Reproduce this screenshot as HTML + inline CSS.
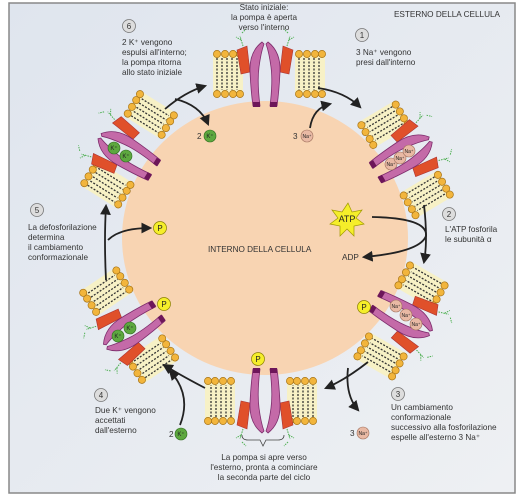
<!DOCTYPE html>
<html><head><meta charset="utf-8"><style>
body{margin:0;background:#fff;}
svg{display:block;font-family:"Liberation Sans",sans-serif;}
</style></head><body>
<svg width="518" height="497" viewBox="0 0 518 497">
<defs>
<linearGradient id="bg" x1="0" y1="0" x2="1" y2="1"><stop offset="0" stop-color="#dfe5ee"/><stop offset="1" stop-color="#eef0f3"/></linearGradient>
<g id="lip">
  <rect x="-26" y="-18" width="30" height="40" fill="#f7f1c6"/>
  <path d="M-22-14v32M-17-14v32M-12-14v32M-7-14v32M-2-14v32" stroke="#333" stroke-width="1.3" stroke-dasharray="2 1.5"/>
  <g fill="#f2b53c" stroke="#a87416" stroke-width="0.7">
  <circle cx="-22" cy="-18" r="3.6"/><circle cx="-14" cy="-18" r="3.6"/><circle cx="-6" cy="-18" r="3.6"/><circle cx="1" cy="-18" r="3.6"/>
  <circle cx="-22" cy="22" r="3.6"/><circle cx="-14" cy="22" r="3.6"/><circle cx="-6" cy="22" r="3.6"/><circle cx="1" cy="22" r="3.6"/></g>
</g>
<g id="pump">
  <use href="#lip" transform="translate(-26,0)"/>
  <use href="#lip" transform="translate(56,0)"/>
  <path d="M-28-22 L-18-26 L-15 0 L-24 2 Z" fill="#e0502a" stroke="#a33" stroke-width="0.6"/>
  <path d="M28-22 L18-26 L15 0 L24 2 Z" fill="#e0502a" stroke="#a33" stroke-width="0.6"/>
  <path d="M-3-30 Q-16-20 -15 0 Q-14 20 -12 34 L-5 34 Q-8 10 -6 -5 Q-4 -20 -1 -28Z" fill="#c46aa8" stroke="#7c2b6b" stroke-width="0.8"/>
  <path d="M3-30 Q16-20 15 0 Q14 20 12 34 L5 34 Q8 10 6 -5 Q4 -20 1 -28Z" fill="#c46aa8" stroke="#7c2b6b" stroke-width="0.8"/>
  <path d="M-12 30 h7 v5 h-7z M5 30 h7 v5 h-7z" fill="#6d1659"/>
  <path d="M-22-26 l-3-10 m1 4 l-5-3 m6-4 l4-4 M22-26 l3-10 m-1 4 l5-3 m-6-4 l-4-4" stroke="#4caf50" stroke-width="1" stroke-dasharray="1.5 1" fill="none"/>
</g>
<marker id="ah" viewBox="0 0 10 10" refX="8" refY="5" markerWidth="6" markerHeight="6" orient="auto"><path d="M0 0L10 5L0 10z" fill="#222"/></marker>
</defs>
<rect x="9" y="3" width="506" height="490" fill="url(#bg)" stroke="#888" stroke-width="1.5"/>
<ellipse cx="265" cy="238" rx="143" ry="137" fill="#f8d4b2"/>
<g><use href="#pump" transform="translate(265,72)"/></g>
<g><use href="#pump" transform="translate(405,155) rotate(59)"/></g>
<g><use href="#pump" transform="translate(405,318) rotate(120)"/></g>
<g><use href="#pump" transform="translate(265,403) rotate(180)"/></g>
<g><use href="#pump" transform="translate(130,330) rotate(-124)"/></g>
<g><use href="#pump" transform="translate(125,152) rotate(-58)"/></g>
<g font-size="5" text-anchor="middle">
  <g fill="#e9b9a4" stroke="#a0705c" stroke-width="0.6"><circle cx="391" cy="164" r="6"/><circle cx="400" cy="158" r="6"/><circle cx="409" cy="151" r="6"/><circle cx="307" cy="136" r="6"/>
  <circle cx="396" cy="306" r="6"/><circle cx="406" cy="315" r="6"/><circle cx="416" cy="324" r="6"/><circle cx="363" cy="433" r="6"/></g>
  <g fill="#5da83f" stroke="#2e6b1e" stroke-width="0.6"><circle cx="114" cy="148" r="6"/><circle cx="126" cy="156" r="6"/><circle cx="210" cy="136" r="6"/>
  <circle cx="118" cy="336" r="6"/><circle cx="130" cy="328" r="6"/><circle cx="181" cy="434" r="6"/></g>
  <g fill="#f5ee2a" stroke="#8a8000" stroke-width="0.7"><circle cx="160" cy="228" r="6.5"/><circle cx="164" cy="304" r="6.5"/><circle cx="364" cy="307" r="6.5"/><circle cx="258" cy="359" r="6.5"/></g>
  <g fill="#222"><text x="391" y="166">Na⁺</text><text x="400" y="160">Na⁺</text><text x="409" y="153">Na⁺</text><text x="307" y="138">Na⁺</text>
  <text x="396" y="308">Na⁺</text><text x="406" y="317">Na⁺</text><text x="416" y="326">Na⁺</text><text x="363" y="435">Na⁺</text>
  <text x="114" y="150" font-size="6">K⁺</text><text x="126" y="158" font-size="6">K⁺</text><text x="210" y="138" font-size="6">K⁺</text>
  <text x="118" y="338" font-size="6">K⁺</text><text x="130" y="330" font-size="6">K⁺</text><text x="181" y="436" font-size="6">K⁺</text>
  <text x="160" y="231" font-size="8">P</text><text x="164" y="307" font-size="8">P</text><text x="364" y="310" font-size="8">P</text><text x="258" y="362" font-size="8">P</text></g>
</g>
<polygon points="348,203 352,212 362,210 356,218 364,224 354,226 354,236 347,229 340,236 340,226 330,224 338,218 332,210 342,212" fill="#f5ee2a" stroke="#a09a00" stroke-width="0.7"/>
<text x="347" y="222" font-size="9" text-anchor="middle" fill="#222">ATP</text>
<g fill="none" stroke="#222" stroke-width="1.8" marker-end="url(#ah)">
  <path d="M165 109 Q185 92 205 86"/><path d="M175 99 Q200 105 208 124"/>
  <path d="M318 88 Q345 92 360 107"/><path d="M310 128 Q313 108 330 104"/>
  <path d="M424 205 Q428 240 424 262"/><path d="M372 217 Q428 218 426 236 Q420 252 364 257"/>
  <path d="M368 362 Q345 380 326 388"/><path d="M348 368 Q345 395 358 410"/>
  <path d="M205 388 Q180 375 164 365"/><path d="M180 425 Q192 395 170 371"/>
  <path d="M106 280 Q104 240 106 206"/><path d="M108 240 Q120 228 150 228"/>
</g>
<path d="M242 435 Q242 440 248 440 H260 L263 446 L266 440 H278 Q284 440 284 435" fill="none" stroke="#444" stroke-width="0.8"/>
<g font-size="8.2" fill="#333">
  <text x="500" y="17" text-anchor="end">ESTERNO DELLA CELLULA</text>
  <text x="264" y="10" text-anchor="middle">Stato iniziale:</text>
  <text x="264" y="20" text-anchor="middle">la pompa è aperta</text>
  <text x="264" y="30" text-anchor="middle">verso l'interno</text>
  <text x="122" y="45">2 K⁺ vengono</text><text x="122" y="55">espulsi all'interno;</text><text x="122" y="65">la pompa ritorna</text><text x="122" y="75">allo stato iniziale</text>
  <text x="356" y="55">3 Na⁺ vengono</text><text x="356" y="65">presi dall'interno</text>
  <text x="445" y="232">L'ATP fosforila</text><text x="445" y="242">le subunità α</text>
  <text x="28" y="230">La defosforilazione</text><text x="28" y="240">determina</text><text x="28" y="250">il cambiamento</text><text x="28" y="260">conformazionale</text>
  <text x="208" y="252">INTERNO DELLA CELLULA</text>
  <text x="342" y="260">ADP</text>
  <text x="391" y="410">Un cambiamento</text><text x="391" y="420">conformazionale</text><text x="391" y="430">successivo alla fosforilazione</text><text x="391" y="440">espelle all'esterno 3 Na⁺</text>
  <text x="95" y="413">Due K⁺ vengono</text><text x="95" y="423">accettati</text><text x="95" y="433">dall'esterno</text>
  <text x="264" y="460" text-anchor="middle">La pompa si apre verso</text><text x="264" y="470" text-anchor="middle">l'esterno, pronta a cominciare</text><text x="264" y="480" text-anchor="middle">la seconda parte del ciclo</text>
  <text x="197" y="139">2</text><text x="293" y="139">3</text><text x="350" y="436">3</text><text x="169" y="437">2</text>
</g>
<g font-size="8" text-anchor="middle">
  <g fill="#ddd" stroke="#777" stroke-width="0.8"><circle cx="129" cy="26" r="6.5"/><circle cx="362" cy="35" r="6.5"/><circle cx="449" cy="214" r="6.5"/><circle cx="37" cy="210" r="6.5"/><circle cx="398" cy="394" r="6.5"/><circle cx="101" cy="395" r="6.5"/></g>
  <g fill="#333"><text x="129" y="29">6</text><text x="362" y="38">1</text><text x="449" y="217">2</text><text x="37" y="213">5</text><text x="398" y="397">3</text><text x="101" y="398">4</text></g>
</g>
</svg>
</body></html>
